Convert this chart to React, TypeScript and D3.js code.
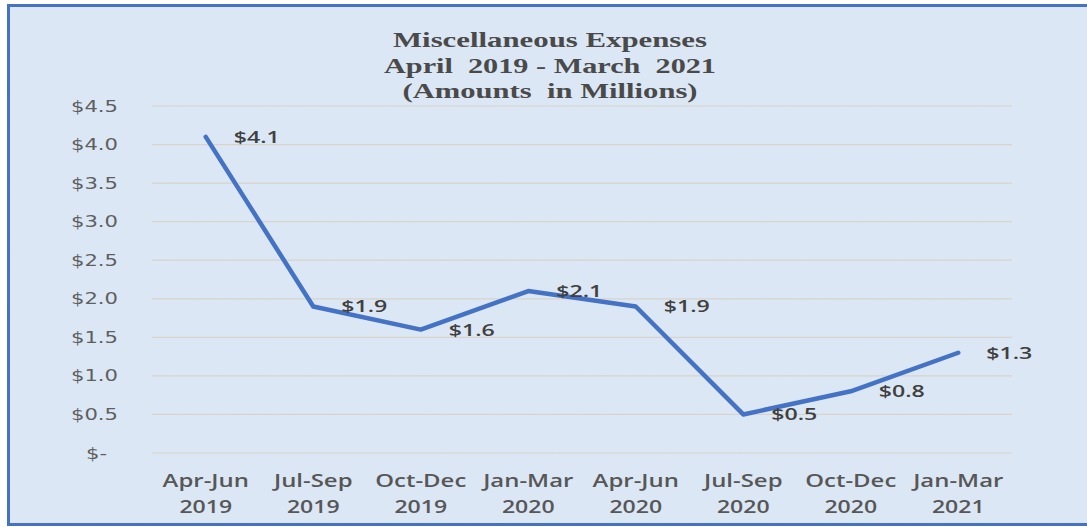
import React from "react";
import * as d3 from "d3";

const categories = [
  ["Apr-Jun", "2019"],
  ["Jul-Sep", "2019"],
  ["Oct-Dec", "2019"],
  ["Jan-Mar", "2020"],
  ["Apr-Jun", "2020"],
  ["Jul-Sep", "2020"],
  ["Oct-Dec", "2020"],
  ["Jan-Mar", "2021"],
];
const values = [4.1, 1.9, 1.6, 2.1, 1.9, 0.5, 0.8, 1.3];
const yTicks = [0, 0.5, 1, 1.5, 2, 2.5, 3, 3.5, 4, 4.5];
const titleLines = [
  "Miscellaneous Expenses",
  "April  2019 - March  2021",
  "(Amounts  in Millions)",
];

const W = 1087;
const H = 527;

function SText({ x, y, sx, anchor, children, ...rest }: any) {
  return (
    <text transform={`translate(${x},${y}) scale(${sx},1)`} textAnchor={anchor} {...rest}>
      {children}
    </text>
  );
}

export default function App() {
  const keys = categories.map((c) => c.join(" "));
  const x = d3.scaleBand<string>().domain(keys).range([152, 1012]).padding(0);
  const y = d3.scaleLinear().domain([0, 4.5]).range([453, 106]);
  const cx = (i: number) => (x(keys[i]) as number) + x.bandwidth() / 2;
  const line = d3
    .line<number>()
    .x((_, i) => cx(i))
    .y((d) => y(d));
  const fmt = (v: number) => (v === 0 ? "$-" : "$" + d3.format(".1f")(v));
  const titleWidths = [314, 332, 295];

  return (
    <div style={{ position: "absolute", left: 0, top: 0 }}>
      <svg width={W} height={H} style={{ display: "block" }}>
        <defs>
          <filter id="noise" x="0" y="0" width="100%" height="100%">
            <feTurbulence type="fractalNoise" baseFrequency="0.9" numOctaves="1" seed="3" result="n" />
            <feColorMatrix type="matrix" values="0 0 0 0 0.6  0 0 0 0 0.7  0 0 0 0 0.85  0 0 0 0.12 0" />
          </filter>
        </defs>
        <rect x={0} y={0} width={W} height={H} fill="#ffffff" />
        <rect x={8.5} y={5.5} width={1090} height={519} fill="#dde8f5" />
        <rect x={8.5} y={5.5} width={1090} height={519} filter="url(#noise)" />
        <rect x={8.5} y={5.5} width={1090} height={519} fill="none" stroke="#4472c4" strokeWidth={3} />

        {titleLines.map((t, i) => (
          <text
            key={i}
            x={550}
            y={47 + i * 25.7}
            textAnchor="middle"
            textLength={titleWidths[i]}
            lengthAdjust="spacingAndGlyphs"
            fontFamily="'Liberation Serif', 'DejaVu Serif', serif"
            fontWeight="bold"
            fontSize={21.5}
            fill="#4a4a4a"
            style={{ whiteSpace: "pre" }}
          >
            {t}
          </text>
        ))}

        {yTicks.map((t) => (
          <g key={t}>
            <line x1={152} x2={1012} y1={y(t)} y2={y(t)} stroke="#d8d3cb" strokeWidth={1.2} />
            <SText
              x={t === 0 ? 107 : 118}
              y={y(t) + 5.5}
              sx={1.32}
              anchor="end"
              fontFamily="'DejaVu Sans', sans-serif"
              fontSize={16}
              fill="#5f5f5f"
            >
              {fmt(t)}
            </SText>
          </g>
        ))}

        {categories.map((c, i) => (
          <g key={i}>
            <SText
              x={cx(i)}
              y={487}
              sx={1.33}
              anchor="middle"
              fontFamily="'Open Sans', sans-serif"
              fontWeight={600}
              fontSize={18}
              fill="#575757"
            >
              {c[0]}
            </SText>
            <SText
              x={cx(i)}
              y={513}
              sx={1.28}
              anchor="middle"
              fontFamily="'Open Sans', sans-serif"
              fontWeight={600}
              fontSize={18}
              fill="#575757"
            >
              {c[1]}
            </SText>
          </g>
        ))}

        <path
          d={line(values) || ""}
          fill="none"
          stroke="#4472c4"
          strokeWidth={4.5}
          strokeLinejoin="round"
          strokeLinecap="round"
        />

        {values.map((v, i) => (
          <SText
            key={i}
            x={cx(i) + 28}
            y={y(v) + 6}
            sx={1.36}
            anchor="start"
            fontFamily="'Open Sans', sans-serif"
            fontWeight={600}
            fontSize={17}
            fill="#404040"
          >
            {fmt(v)}
          </SText>
        ))}
      </svg>
    </div>
  );
}
